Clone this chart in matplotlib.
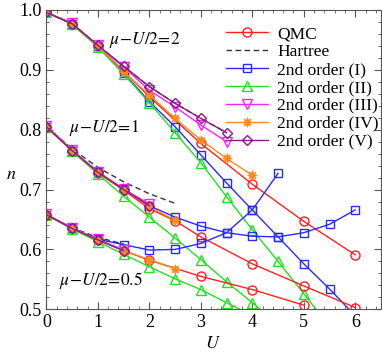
import matplotlib
matplotlib.use("Agg")
import matplotlib.pyplot as plt
from matplotlib.ticker import MultipleLocator

plt.rcParams['font.family'] = ['Liberation Serif', 'DejaVu Serif']
plt.rcParams['mathtext.fontset'] = 'stix'

# ---------------- data ----------------
# group 1 : mu - U/2 = 2
qmc1_U = [0, 0.5, 1, 1.5, 2, 3, 4, 5, 6]
qmc1_n = [0.996, 0.977, 0.940, 0.898, 0.855, 0.777, 0.709, 0.647, 0.591]
har1_U = [0, 0.5, 1, 1.5, 2, 2.5, 3, 3.5]
har1_n = [0.996, 0.977, 0.941, 0.906, 0.872, 0.844, 0.819, 0.795]
o1_1_U = [0, 0.5, 1, 1.5, 2, 2.5, 3, 3.5, 4, 4.5, 5, 5.5, 6]
o1_1_n = [0.996, 0.977, 0.940, 0.895, 0.847, 0.805, 0.758, 0.711, 0.666, 0.621, 0.576, 0.534, 0.489]
o2_1_U = [0, 0.5, 1, 1.5, 2, 2.5, 3, 3.5, 4, 4.5, 5, 5.5]
o2_1_n = [0.996, 0.976, 0.938, 0.893, 0.845, 0.795, 0.745, 0.688, 0.633, 0.580, 0.526, 0.472]
o3_1_U = [0, 0.5, 1, 1.5, 2, 2.5, 3, 3.5]
o3_1_n = [0.996, 0.978, 0.941, 0.905, 0.866, 0.838, 0.808, 0.780]
o4_1_U = [0, 0.5, 1, 1.5, 2, 2.5, 3, 3.5, 4]
o4_1_n = [0.996, 0.977, 0.940, 0.897, 0.858, 0.819, 0.783, 0.752, 0.724]
o5_1_U = [0, 0.5, 1, 1.5, 2, 2.5, 3, 3.5]
o5_1_n = [0.996, 0.977, 0.941, 0.906, 0.872, 0.844, 0.819, 0.795]

# group 2 : mu - U/2 = 1
qmc2_U = [0, 0.5, 1, 1.5, 2, 2.5, 3, 4, 5, 6]
qmc2_n = [0.805, 0.765, 0.728, 0.699, 0.668, 0.648, 0.621, 0.576, 0.539, 0.503]
har2_U = [0, 0.5, 1, 1.5, 2, 2.5]
har2_n = [0.805, 0.768, 0.737, 0.713, 0.693, 0.677]
o1_2_U = [0, 0.5, 1, 1.5, 2, 2.5, 3, 3.5, 4, 4.5, 5, 5.5, 6]
o1_2_n = [0.805, 0.765, 0.729, 0.701, 0.673, 0.654, 0.639, 0.628, 0.622, 0.621, 0.628, 0.642, 0.666]
o2_2_U = [0, 0.5, 1, 1.5, 2, 2.5, 3, 3.5, 4, 4.5]
o2_2_n = [0.805, 0.764, 0.726, 0.689, 0.654, 0.619, 0.583, 0.546, 0.511, 0.475]
o3_2_U = [0, 0.5, 1, 1.5, 2]
o3_2_n = [0.806, 0.766, 0.730, 0.701, 0.676]
o4_2_U = [0, 0.5, 1, 1.5, 2, 2.5]
o4_2_n = [0.805, 0.765, 0.729, 0.700, 0.671, 0.649]
o5_2_U = [0, 0.5, 1, 1.5, 2]
o5_2_n = [0.805, 0.765, 0.729, 0.700, 0.673]

# group 3 : mu - U/2 = 0.5
qmc3_U = [0, 0.5, 1, 1.5, 2, 3, 4, 5]
qmc3_n = [0.658, 0.635, 0.616, 0.598, 0.582, 0.555, 0.533, 0.507]
har3_U = [0, 0.5, 1, 1.5]
har3_n = [0.658, 0.636, 0.620, 0.609]
o1_3_U = [0, 0.5, 1, 1.5, 2, 2.5, 3, 3.5, 4, 4.5]
o1_3_n = [0.658, 0.635, 0.617, 0.608, 0.599, 0.600, 0.610, 0.628, 0.666, 0.727]
o2_3_U = [0, 0.5, 1, 1.5, 2, 2.5, 3, 3.5, 4]
o2_3_n = [0.658, 0.634, 0.613, 0.592, 0.571, 0.551, 0.533, 0.511, 0.490]
o3_3_U = [0, 0.5, 1, 1.5]
o3_3_n = [0.659, 0.636, 0.617, 0.599]
o4_3_U = [0, 0.5, 1, 1.5, 2, 2.5]
o4_3_n = [0.658, 0.635, 0.616, 0.598, 0.583, 0.568]
o5_3_U = [0, 0.5, 1, 1.5]
o5_3_n = [0.658, 0.635, 0.616, 0.598]

labels = ['QMC', 'Hartree', '2nd order (I)', '2nd order (II)',
          '2nd order (III)', '2nd order (IV)', '2nd order (V)']
group_labels = [r'$\mu\!-\!U/2\!=\!2$', r'$\mu\!-\!U/2\!=\!1$', r'$\mu\!-\!U/2\!=\!0.5$']
x_ticks = [0, 1, 2, 3, 4, 5, 6]
y_ticks = [0.5, 0.6, 0.7, 0.8, 0.9, 1.0]

# ---------------- styling ----------------
styles = [
    dict(color='#ff2020', marker='o', mfc='none', ms=6.5, mew=1.0, ls='-'),
    dict(color='#333333', marker=None, ls=(0, (4, 2.5)), lw=1.0),
    dict(color='#2a2aff', marker='s', mfc='none', ms=6, mew=1.0, ls='-'),
    dict(color='#22e022', marker='^', mfc='none', ms=7, mew=1.0, ls='-'),
    dict(color='#ff22ff', marker='v', mfc='none', ms=7, mew=1.0, ls='-'),
    dict(color='#ff8a1a', marker=(8, 1, 0), mfc='#ff8a1a', ms=7, mew=0.5, ls='-'),
    dict(color='#8a1a8a', marker='D', mfc='none', ms=5, mew=1.0, ls='-'),
]

groups = [
    [(qmc1_U, qmc1_n), (har1_U, har1_n), (o1_1_U, o1_1_n), (o2_1_U, o2_1_n),
     (o3_1_U, o3_1_n), (o4_1_U, o4_1_n), (o5_1_U, o5_1_n)],
    [(qmc2_U, qmc2_n), (har2_U, har2_n), (o1_2_U, o1_2_n), (o2_2_U, o2_2_n),
     (o3_2_U, o3_2_n), (o4_2_U, o4_2_n), (o5_2_U, o5_2_n)],
    [(qmc3_U, qmc3_n), (har3_U, har3_n), (o1_3_U, o1_3_n), (o2_3_U, o2_3_n),
     (o3_3_U, o3_3_n), (o4_3_U, o4_3_n), (o5_3_U, o5_3_n)],
]

fig = plt.figure(figsize=(3.82, 3.54), dpi=100)
ax = fig.add_axes([46.4 / 382, 44.7 / 354, (381 - 46.4) / 382, (309.3 - 10) / 354])

handles = [None] * 7
for gi, group in enumerate(groups):
    for si, (u, n) in enumerate(group):
        st = dict(styles[si])
        lw = st.pop('lw', 1.0)
        h, = ax.plot(u, n, lw=lw, **st)
        if gi == 0:
            handles[si] = h

ax.set_xlim(0, 6.5)
ax.set_ylim(0.5, 1.0)
ax.set_xticks(x_ticks)
ax.set_yticks(y_ticks)
ax.set_xticklabels([str(t) for t in x_ticks])
ax.set_yticklabels([f'{t:.1f}' for t in y_ticks])
ax.xaxis.set_minor_locator(MultipleLocator(0.2))
ax.yaxis.set_minor_locator(MultipleLocator(0.02))
ax.tick_params(which='both', direction='in', top=True, right=True, labelsize=13, colors='#555555',
               labelcolor='black')
ax.tick_params(which='major', length=5, width=0.8)
ax.tick_params(which='minor', length=2.5, width=0.6)
for sp in ax.spines.values():
    sp.set_color('#555555')
    sp.set_linewidth(0.8)

ax.text(1.92, 0.95, group_labels[0], fontsize=12.5, ha='center', va='center')
ax.text(1.13, 0.803, group_labels[1], fontsize=12.5, ha='center', va='center')
ax.text(1.06, 0.548, group_labels[2], fontsize=12.5, ha='center', va='center')

fig.text(213 / 382, 1 - 343 / 354, '$U$', fontsize=13, ha='center', va='center')
fig.text(11 / 382, 1 - 175 / 354, '$n$', fontsize=13, ha='center', va='center')

leg = ax.legend(handles, labels, loc='upper left', bbox_to_anchor=(0.537, 0.946), frameon=False,
                fontsize=12.5, handlelength=2.4, handletextpad=0.55, labelspacing=0.1,
                borderaxespad=0.0, borderpad=0.0, markerscale=1.0)

fig.savefig('out.png', dpi=100)
